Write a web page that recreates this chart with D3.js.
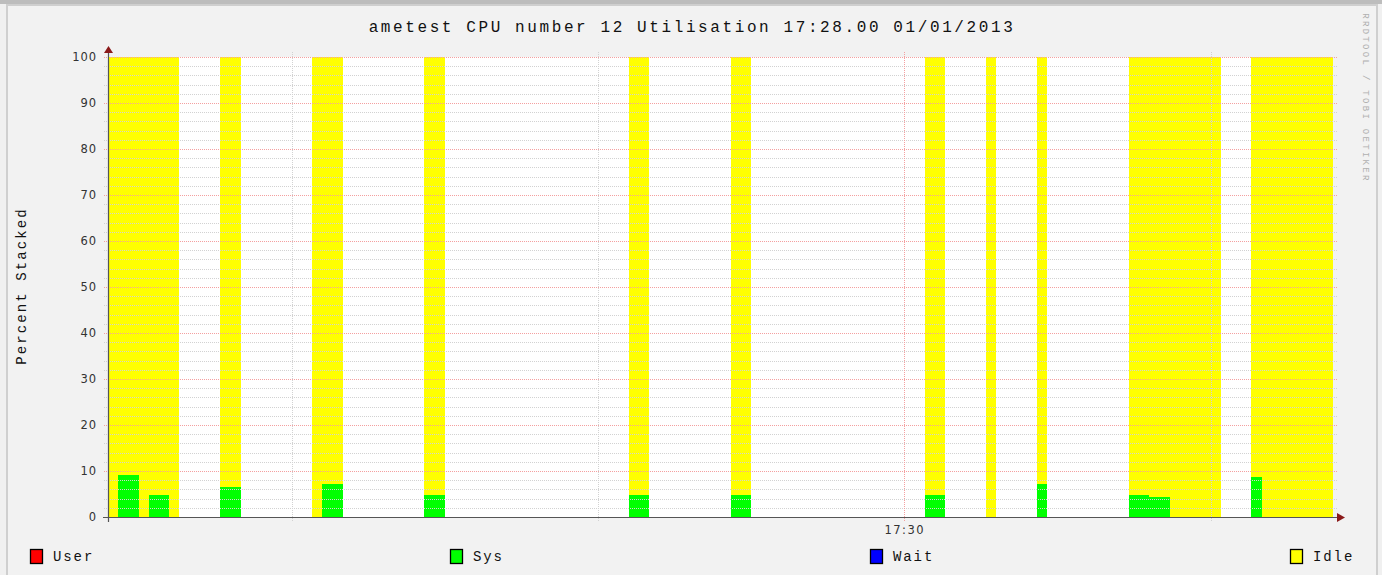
<!DOCTYPE html>
<html>
<head>
<meta charset="utf-8">
<script src="https://cdn.jsdelivr.net/npm/d3@7"></script>
<style>
  body { margin: 0; background: #f0f0f0; }
  svg { display: block; }
</style>
</head>
<body>
<div id="cpu_chart"></div>
<script>
// sample slots of 10 seconds on 01/01/2013 (gaps = unknown data)
const sampleTimes = [
  "17:17:00", "17:17:10", "17:17:20", "17:17:30", "17:17:40", "17:17:50", "17:18:00",
  "17:18:50", "17:19:00",
  "17:20:20", "17:20:30", "17:20:40",
  "17:22:10", "17:22:20",
  "17:25:30", "17:25:40",
  "17:27:10", "17:27:20",
  "17:30:20", "17:30:30",
  "17:31:20",
  "17:32:10",
  "17:33:40", "17:33:50", "17:34:00", "17:34:10", "17:34:20", "17:34:30", "17:34:40", "17:34:50", "17:35:00",
  "17:35:40", "17:35:50", "17:36:00", "17:36:10", "17:36:20", "17:36:30", "17:36:40", "17:36:50"
];
const userPct = [
  0, 0, 0, 0, 0, 0, 0,
  0, 0,
  0, 0, 0,
  0, 0,
  0, 0,
  0, 0,
  0, 0,
  0,
  0,
  0, 0, 0, 0, 0, 0, 0, 0, 0,
  0, 0, 0, 0, 0, 0, 0, 0
];
const sysPct = [
  0, 9.1, 9.1, 0, 4.8, 4.8, 0,
  6.5, 6.5,
  0, 7.2, 7.2,
  4.8, 4.8,
  4.8, 4.8,
  4.8, 4.8,
  4.8, 4.8,
  0,
  7.2,
  4.8, 4.8, 4.4, 4.4, 0, 0, 0, 0, 0,
  8.8, 0, 0, 0, 0, 0, 0, 0
];
const waitPct = [
  0, 0, 0, 0, 0, 0, 0,
  0, 0,
  0, 0, 0,
  0, 0,
  0, 0,
  0, 0,
  0, 0,
  0,
  0,
  0, 0, 0, 0, 0, 0, 0, 0, 0,
  0, 0, 0, 0, 0, 0, 0, 0
];
const idlePct = [
  100, 90.9, 90.9, 100, 95.2, 95.2, 100,
  93.5, 93.5,
  100, 92.8, 92.8,
  95.2, 95.2,
  95.2, 95.2,
  95.2, 95.2,
  95.2, 95.2,
  100,
  92.8,
  95.2, 95.2, 95.6, 95.6, 100, 100, 100, 100, 100,
  91.2, 100, 100, 100, 100, 100, 100, 100
];
const seriesKeys = ["user", "sys", "wait", "idle"];
const seriesNames = ["User", "Sys", "Wait", "Idle"];
const seriesColors = ["#ff0000", "#00ff00", "#0000ff", "#ffff00"];
const yTicks = [0, 10, 20, 30, 40, 50, 60, 70, 80, 90, 100];
const startTime = "17:17:00";
const endTime = "17:37:00";
const labelTime = "17:30";
const stepSeconds = 10;

const W = 1382, H = 575;
const plot = {left: 108, right: 1333, top: 57, bottom: 517};

const parseTime = d3.timeParse("%Y-%m-%d %H:%M:%S");
const day = "2013-01-01 ";

const rows = sampleTimes.map((t, i) => ({
  time: parseTime(day + t),
  user: userPct[i], sys: sysPct[i], wait: waitPct[i], idle: idlePct[i]
}));

const x = d3.scaleTime()
  .domain([parseTime(day + startTime), parseTime(day + endTime)])
  .range([plot.left, plot.right]);
const y = d3.scaleLinear().domain([0, 100]).range([plot.bottom, plot.top]);
const color = d3.scaleOrdinal(seriesKeys, seriesColors);

const svg = d3.select("#cpu_chart").append("svg")
  .attr("width", W).attr("height", H)
  .style("font-family", "'Liberation Mono', monospace");

// frame
svg.append("rect").attr("x", 0).attr("y", 0).attr("width", W).attr("height", 4).attr("fill", "#bdbdbd");
svg.append("rect").attr("x", 7).attr("y", 5).attr("width", 1370).attr("height", 572)
  .attr("fill", "#f2f2f2").attr("stroke", "#cfcfcf").attr("stroke-width", 2);

// plot background
svg.append("rect")
  .attr("x", plot.left).attr("y", plot.top)
  .attr("width", plot.right - plot.left).attr("height", plot.bottom - plot.top)
  .attr("fill", "#ffffff");

// stacked bars
const stacked = d3.stack().keys(seriesKeys)(rows);
svg.append("g").attr("shape-rendering", "crispEdges")
  .selectAll("g")
  .data(stacked)
  .join("g")
    .attr("fill", d => color(d.key))
  .selectAll("rect")
  .data(d => d.filter(p => p[1] > p[0]))
  .join("rect")
    .attr("x", d => x(d.data.time))
    .attr("width", d => x(d3.timeSecond.offset(d.data.time, stepSeconds)) - x(d.data.time))
    .attr("y", d => y(d[1]))
    .attr("height", d => y(d[0]) - y(d[1]));

// horizontal grid
const grid = svg.append("g").attr("shape-rendering", "crispEdges");
grid.selectAll("line.hminor")
  .data(d3.range(2, 100, 2).filter(v => v % 10 !== 0))
  .join("line")
    .attr("x1", plot.left - 4).attr("x2", plot.right + 4)
    .attr("y1", d => y(d) + 0.5).attr("y2", d => y(d) + 0.5)
    .attr("stroke", "#d2d2d2").attr("stroke-dasharray", "1,1");
grid.selectAll("line.hmajor")
  .data(yTicks.filter(v => v > 0))
  .join("line")
    .attr("x1", plot.left - 4).attr("x2", plot.right + 4)
    .attr("y1", d => y(d) + 0.5).attr("y2", d => y(d) + 0.5)
    .attr("stroke", "#f4a0a0").attr("stroke-dasharray", "1,1");

// vertical grid
const fiveMin = x.ticks(d3.timeMinute.every(5));
const fmt = d3.timeFormat("%H:%M");
grid.selectAll("line.v")
  .data(fiveMin)
  .join("line")
    .attr("x1", d => Math.round(x(d)) + 0.5).attr("x2", d => Math.round(x(d)) + 0.5)
    .attr("y1", plot.top - 5).attr("y2", plot.bottom + 4)
    .attr("stroke", d => fmt(d) === labelTime ? "#f4a0a0" : "#d2d2d2")
    .attr("stroke-dasharray", "1,1");

// axes lines
const axisColor = "#555555";
svg.append("line")
  .attr("x1", plot.left + 0.5).attr("x2", plot.left + 0.5)
  .attr("y1", plot.top - 5).attr("y2", plot.bottom + 5)
  .attr("stroke", axisColor).attr("stroke-width", 1.2);
svg.append("line")
  .attr("x1", plot.left - 5).attr("x2", plot.right + 5)
  .attr("y1", plot.bottom + 0.5).attr("y2", plot.bottom + 0.5)
  .attr("stroke", axisColor).attr("stroke-width", 1.2);
svg.append("path")
  .attr("d", `M${plot.left - 4},${plot.top - 4} L${plot.left + 5},${plot.top - 4} L${plot.left + 0.5},${plot.top - 11} Z`)
  .attr("fill", "#8b1a1a");
svg.append("path")
  .attr("d", `M${plot.right + 4},${plot.bottom - 4} L${plot.right + 4},${plot.bottom + 5} L${plot.right + 12},${plot.bottom + 0.5} Z`)
  .attr("fill", "#8b1a1a");

// y tick labels
const yAxis = svg.append("g")
  .attr("transform", `translate(${plot.left},0)`)
  .call(d3.axisLeft(y).tickValues(yTicks).tickSize(0).tickPadding(11));
yAxis.select(".domain").remove();
yAxis.selectAll("text")
  .style("font-family", "'DejaVu Sans', sans-serif")
  .style("font-size", "11.5px")
  .style("letter-spacing", "0.9px")
  .attr("fill", "#333");

// x tick labels
const xAxis = svg.append("g")
  .attr("transform", `translate(0,${plot.bottom})`)
  .call(d3.axisBottom(x)
    .tickValues(fiveMin.filter(d => fmt(d) === labelTime))
    .tickFormat(fmt).tickSize(0).tickPadding(9));
xAxis.select(".domain").remove();
xAxis.selectAll("text")
  .style("font-family", "'DejaVu Sans', sans-serif")
  .style("font-size", "11.5px")
  .style("letter-spacing", "1.5px")
  .attr("fill", "#333");

// title
svg.append("text")
  .attr("x", 692).attr("y", 32)
  .attr("text-anchor", "middle")
  .style("font-size", "16px")
  .style("letter-spacing", "2.6px")
  .attr("fill", "#111")
  .text("ametest CPU number 12 Utilisation 17:28.00 01/01/2013");

// y label
svg.append("text")
  .attr("transform", "translate(26,286) rotate(-90)")
  .attr("text-anchor", "middle")
  .style("font-size", "14px")
  .style("letter-spacing", "2.1px")
  .attr("fill", "#111")
  .text("Percent Stacked");

// watermark
svg.append("text")
  .attr("transform", "translate(1363,98) rotate(90)")
  .attr("text-anchor", "middle")
  .style("font-size", "9px")
  .style("letter-spacing", "2.3px")
  .attr("fill", "#b0b0b0")
  .text("RRDTOOL / TOBI OETIKER");

// legend
const legendX = d3.scalePoint().domain(seriesKeys).range([30, 1290]);
const legend = svg.append("g")
  .selectAll("g")
  .data(seriesKeys)
  .join("g")
    .attr("transform", d => `translate(${legendX(d)},549)`);
legend.append("rect")
  .attr("x", 0.5).attr("y", 0.5).attr("width", 12).attr("height", 14)
  .attr("fill", d => color(d)).attr("stroke", "#000").attr("stroke-width", 1.3);
legend.append("text")
  .attr("x", 23).attr("y", 12)
  .style("font-size", "14px")
  .style("letter-spacing", "1.9px")
  .attr("fill", "#111")
  .text((d, i) => seriesNames[i]);
</script>
</body>
</html>
